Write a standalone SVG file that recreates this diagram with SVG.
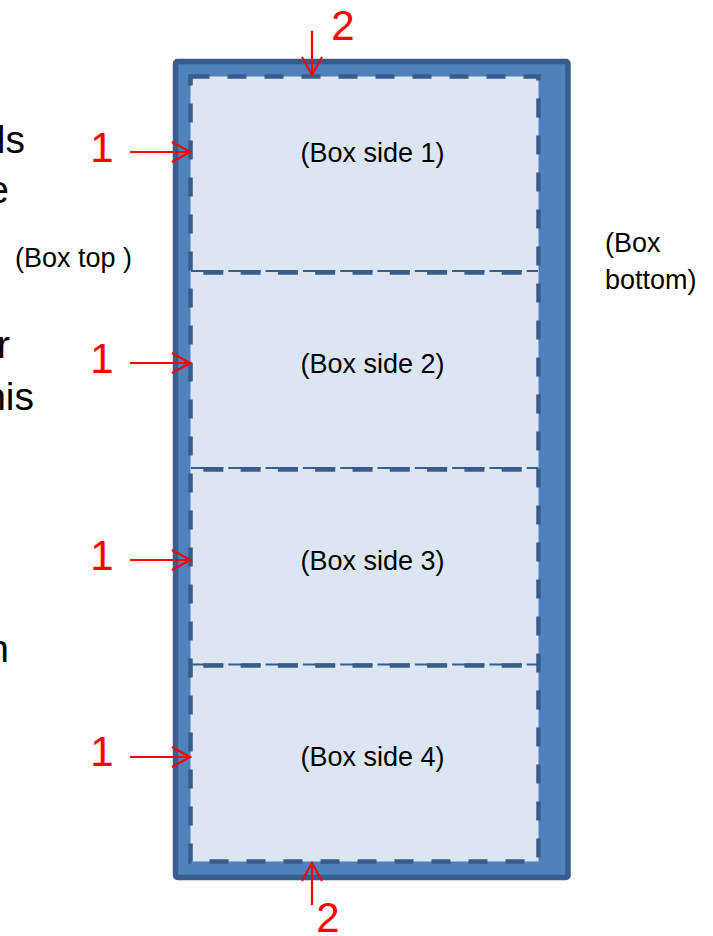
<svg xmlns="http://www.w3.org/2000/svg" width="713" height="936" viewBox="0 0 713 936">
<style>
.lbl{font-family:"Liberation Sans",Arial,sans-serif;font-size:27px;fill:#000}
.big{font-family:"Liberation Sans",Arial,sans-serif;font-size:39px;fill:#000}
.num{font-family:"Liberation Sans",Arial,sans-serif;font-size:42px;fill:#FF0000;text-anchor:middle}
.arr{stroke:#FF0000;stroke-width:2.2;fill:none;marker-end:url(#head)}
.thin{stroke:#385D8A;stroke-width:1.8;stroke-dasharray:32.3 5;fill:none}
.thick{stroke:#385D8A;stroke-width:4.5;stroke-dasharray:20 17.3;stroke-dashoffset:-12.3;fill:none}
</style>
<defs>
<marker id="head" markerUnits="userSpaceOnUse" markerWidth="22" markerHeight="24" viewBox="0 0 22 24" refX="20" refY="12" orient="auto">
<path d="M2,2 L20,12 L2,22" fill="none" stroke="#FF0000" stroke-width="2.2"/>
</marker>
</defs>
<rect width="713" height="936" fill="#FFFFFF"/>
<g id="left-text">
<text class="big" x="25" y="153" text-anchor="end">ls</text>
<text class="big" x="9" y="203" text-anchor="end">e</text>
<text class="big" x="10" y="358" text-anchor="end">r</text>
<text class="big" x="34" y="410" text-anchor="end">his</text>
<text class="big" x="9" y="662" text-anchor="end">n</text>
</g>
<g id="box-top-label">
<text class="lbl" x="15" y="267">(Box top )</text>
</g>
<g id="box-bottom-label">
<text class="lbl" x="605" y="252">(Box</text>
<text class="lbl" x="605" y="289">bottom)</text>
</g>
<g id="box">
<rect x="175.5" y="61.5" width="392.5" height="816" rx="2" fill="#4F81BD" stroke="#385D8A" stroke-width="5.5"/>
<rect x="190.5" y="76.5" width="348" height="785" fill="#DCE6F2" stroke="#385D8A" stroke-width="4.5" stroke-dasharray="19 18"/>
</g>
<g id="dividers">
<path class="thin" d="M191,271 H538"/>
<path class="thick" d="M191,272.5 H538"/>
<path class="thin" d="M191,468 H538"/>
<path class="thick" d="M191,469.5 H538"/>
<path class="thin" d="M191,664.5 H538"/>
<path class="thick" d="M191,665.5 H538"/>
</g>
<g id="side1"><text class="lbl" x="372.5" y="162" text-anchor="middle">(Box side 1)</text></g>
<g id="side2"><text class="lbl" x="372.5" y="373" text-anchor="middle">(Box side 2)</text></g>
<g id="side3"><text class="lbl" x="372.5" y="570" text-anchor="middle">(Box side 3)</text></g>
<g id="side4"><text class="lbl" x="372.5" y="766" text-anchor="middle">(Box side 4)</text></g>
<g id="connectors">
<line class="arr" x1="130" y1="152" x2="190" y2="152"/>
<line class="arr" x1="130" y1="363" x2="190" y2="363"/>
<line class="arr" x1="130" y1="560" x2="190" y2="560"/>
<line class="arr" x1="130" y1="757" x2="190" y2="757"/>
<line class="arr" x1="312" y1="31" x2="312" y2="75"/>
<line class="arr" x1="312" y1="905" x2="312" y2="863"/>
</g>
<g id="numbers">
<text class="num" x="102" y="162">1</text>
<text class="num" x="102" y="373">1</text>
<text class="num" x="102" y="570">1</text>
<text class="num" x="102" y="766">1</text>
<text class="num" x="343" y="40">2</text>
<text class="num" x="328" y="932">2</text>
</g>
</svg>
